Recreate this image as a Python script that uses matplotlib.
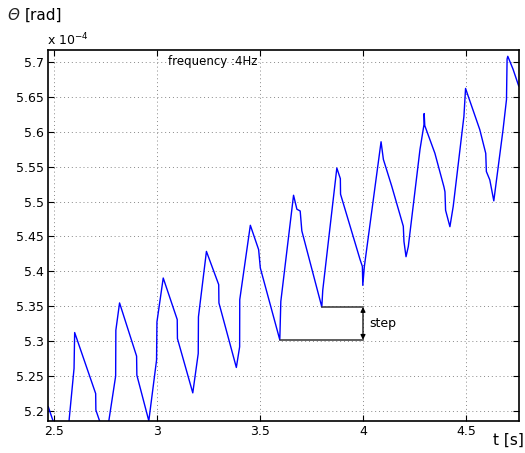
import matplotlib
matplotlib.use("Agg")
import matplotlib.pyplot as plt

# time [s]
t = [2.472, 2.5555, 2.573, 2.597, 2.600, 2.702, 2.703, 2.752, 2.799, 2.800, 2.818,
     2.9007, 2.902, 2.960, 2.9976, 2.9995, 3.030, 3.098, 3.099, 3.1735, 3.200, 3.201,
     3.2398, 3.2994, 3.3005, 3.385, 3.401, 3.4016, 3.453, 3.4932, 3.5015, 3.596, 3.601,
     3.6628, 3.679, 3.695, 3.703, 3.800, 3.8046, 3.873, 3.8857, 3.890, 3.891, 3.986,
     3.997, 3.999, 4.0066, 4.0877, 4.099, 4.1395, 4.1957, 4.1989, 4.2089, 4.220, 4.2767,
     4.296, 4.297, 4.300, 4.349, 4.393, 4.398, 4.401, 4.422, 4.438, 4.490, 4.498,
     4.5107, 4.567, 4.596, 4.599, 4.6157, 4.6351, 4.680, 4.6967, 4.6996, 4.703, 4.7287,
     4.756]
# theta [x 1e-4 rad]
theta = [5.206, 5.133, 5.187, 5.261, 5.3124, 5.225, 5.2014, 5.159, 5.250, 5.3157, 5.3548,
         5.2786, 5.2514, 5.186, 5.2729, 5.3276, 5.3905, 5.331, 5.3038, 5.226, 5.2824, 5.3348,
         5.4286, 5.381, 5.3548, 5.2624, 5.2919, 5.3595, 5.466, 5.4312, 5.4048, 5.302, 5.357,
         5.509, 5.489, 5.4865, 5.458, 5.349, 5.373, 5.548, 5.5366, 5.5328, 5.5105, 5.4167,
         5.407, 5.380, 5.407, 5.5856, 5.5603, 5.522, 5.4646, 5.4428, 5.421, 5.4356, 5.5746,
         5.610, 5.626, 5.6087, 5.5692, 5.521, 5.5139, 5.4875, 5.464, 5.493, 5.622, 5.662,
         5.651, 5.603, 5.569, 5.543, 5.531, 5.501, 5.603, 5.646, 5.704, 5.708, 5.6894,
         5.6655]

xticks = [2.5, 3, 3.5, 4, 4.5]
xticklabels = ["2.5", "3", "3.5", "4", "4.5"]
yticks = [5.2, 5.25, 5.3, 5.35, 5.4, 5.45, 5.5, 5.55, 5.6, 5.65, 5.7]
yticklabels = ["5.2", "5.25", "5.3", "5.35", "5.4", "5.45", "5.5", "5.55", "5.6", "5.65", "5.7"]

step_t0_low, step_t0_high, step_t1 = 3.596, 3.800, 4.0
step_low, step_high = 5.302, 5.349

fig = plt.figure(figsize=(5.25, 4.53), dpi=100)
ax = fig.add_axes([0.092, 0.0706, 0.896, 0.819])

ax.plot(t, theta, color=(0, 0, 1), lw=1.0)

ax.plot([step_t0_low, step_t1], [step_low, step_low], color="#333333", lw=1.1)
ax.plot([step_t0_high, step_t1], [step_high, step_high], color="#333333", lw=1.1)
ax.annotate("", xy=(step_t1, step_low), xytext=(step_t1, step_high),
            arrowprops=dict(arrowstyle="<|-|>", color="black", lw=0.9,
                            mutation_scale=7, shrinkA=0, shrinkB=0))
ax.text(step_t1 + 0.03, (step_low + step_high) / 2, "step", fontsize=9,
        va="center", ha="left")

ax.text(3.055, 5.7, "frequency :4Hz", fontsize=8.5, va="center", ha="left")

ax.set_xlim(2.472, 4.756)
ax.set_ylim(5.1857, 5.717)
ax.set_xticks(xticks)
ax.set_xticklabels(xticklabels)
ax.set_yticks(yticks)
ax.set_yticklabels(yticklabels)
ax.tick_params(direction="in", length=4, width=0.8, labelsize=9, top=True, right=True,
               pad=3)
ax.grid(True, linestyle=(0, (1, 3)), color="#888888", lw=0.7)
for s in ax.spines.values():
    s.set_linewidth(1.2)

fig.text(8 / 525, 1 - 20 / 453, "Θ", fontsize=11, ha="left", va="baseline",
         fontstyle="italic", fontweight="light", color="#222222")
fig.text(25 / 525, 1 - 20 / 453, "[rad]", fontsize=11, ha="left", va="baseline")
fig.text(47 / 525, 1 - 45 / 453, r"x 10$^{-4}$", fontsize=9, ha="left", va="baseline")
fig.text(524 / 525, 1 - 445 / 453, "t [s]", fontsize=11, ha="right", va="baseline")

fig.savefig("out.png", dpi=100)
